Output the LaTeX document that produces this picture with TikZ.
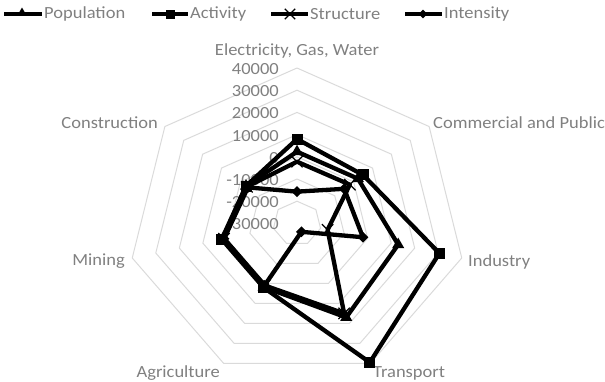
\documentclass[tikz,border=0pt]{standalone}
\usepackage{fontspec}
\setmainfont{Carlito}[FakeStretch=1.088]
\usetikzlibrary{shapes.geometric,shapes.misc}
\definecolor{gridc}{HTML}{DADADA}
\definecolor{txt}{HTML}{808080}
\newcommand\rpt[3]{\coordinate (#1) at ({297+169*((#3)+30)/70*sin((#2)*360/7)},{223.4-155.4*((#3)+30)/70*cos((#2)*360/7)});}
\begin{document}
\begin{tikzpicture}[x=1pt,y=-1pt,
  series/.style={line width=4.3pt, line join=round, draw=black},
  legline/.style={line width=3.3pt, draw=black},
  ring/.style={draw=gridc, line width=1pt, line join=round},
  lbl/.style={font=\fontsize{17}{20}\selectfont, text=txt, inner sep=0pt},
  mtri/.style={regular polygon, regular polygon sides=3, fill=black, inner sep=0pt, minimum size=14pt},
  msq/.style={rectangle, fill=black, inner sep=0pt, minimum size=11pt},
  mdia/.style={diamond, fill=black, inner sep=0pt, minimum size=11pt},
  mx/.style={cross out, draw=black, line width=1.3pt, inner sep=0pt, minimum size=10pt}]
\useasboundingbox (0,0) rectangle (605,381);
% grid rings
\foreach \i in {1,...,7}
  \draw[ring] plot[samples at={0,...,6}] ({297+169*\i/7*sin(\x*360/7)},{223.4-155.4*\i/7*cos(\x*360/7)}) -- cycle;
% ring labels
\foreach \i/\t in {0/-30000,1/-20000,2/-10000,3/0,4/10000,5/20000,6/30000,7/40000}
  \node[lbl, anchor=east] (r\i) at (279,{224.4-155.4*\i/7}) {\t};
% category labels
\node[lbl, anchor=south] (c0) at (297,58) {Electricity, Gas, Water};
\node[lbl, anchor=west] (c1) at (433,123) {Commercial and Public};
\node[lbl, anchor=west] (c2) at (468,261.5) {Industry};
\node[lbl, anchor=base west] (c3) at (373,377) {Transport};
\node[lbl, anchor=base east] (c4) at (220,377) {Agriculture};
\node[lbl, anchor=east] (c5) at (125,261.5) {Mining};
\node[lbl, anchor=east] (c6) at (158,123) {Construction};
% data points
\foreach \k/\v in {0/2.3,1/2.3,2/13,3/17,4/1.8,5/1.5,6/-3} {\rpt{P\k}{\k}{\v}}
\foreach \k/\v in {0/8,1/5,2/30.5,3/39.5,4/2,5/2,6/-3} {\rpt{A\k}{\k}{\v}}
\foreach \k/\v in {0/-2.2,1/-2,2/-17,3/15,4/1,5/1,6/-3.5} {\rpt{S\k}{\k}{\v}}
\foreach \k/\v in {0/-15.7,1/-5,2/-2,3/-25.8,4/1,5/1,6/-4} {\rpt{I\k}{\k}{\v}}
\draw[series] (P0)--(P1)--(P2)--(P3)--(P4)--(P5)--(P6)--cycle;
\draw[series] (A0)--(A1)--(A2)--(A3)--(A4)--(A5)--(A6)--cycle;
\draw[series] (S0)--(S1)--(S2)--(S3)--(S4)--(S5)--(S6)--cycle;
\draw[series] (I0)--(I1)--(I2)--(I3)--(I4)--(I5)--(I6)--cycle;
\foreach \k in {0,...,6} {
  \node[mtri] (mP\k) at (P\k) {};
  \node[msq] (mA\k) at (A\k) {};
  \node[mx] (mS\k) at (S\k) {};
  \node[mdia] (mI\k) at (I\k) {};
}
% legend
\coordinate (l1a) at (4,14); \coordinate (l1b) at (42,14);
\draw[legline] (l1a) -- (l1b);
\node[mtri, minimum size=11pt] (lm1) at (22,13) {};
\node[lbl, anchor=west] (lt1) at (44,14) {Population};
\coordinate (l2a) at (152,14); \coordinate (l2b) at (188,14);
\draw[legline] (l2a) -- (l2b);
\node[msq, minimum size=9pt] (lm2) at (170,14) {};
\node[lbl, anchor=west] (lt2) at (190,14) {Activity};
\coordinate (l3a) at (271,14); \coordinate (l3b) at (308,14);
\draw[legline] (l3a) -- (l3b);
\node[mx, minimum size=9pt] (lm3) at (290,14) {};
\node[lbl, anchor=west] (lt3) at (310,14) {Structure};
\coordinate (l4a) at (405,14); \coordinate (l4b) at (442,14);
\draw[legline] (l4a) -- (l4b);
\node[mdia, minimum size=9pt] (lm4) at (423,14) {};
\node[lbl, anchor=west] (lt4) at (444,14) {Intensity};
\end{tikzpicture}
\end{document}
